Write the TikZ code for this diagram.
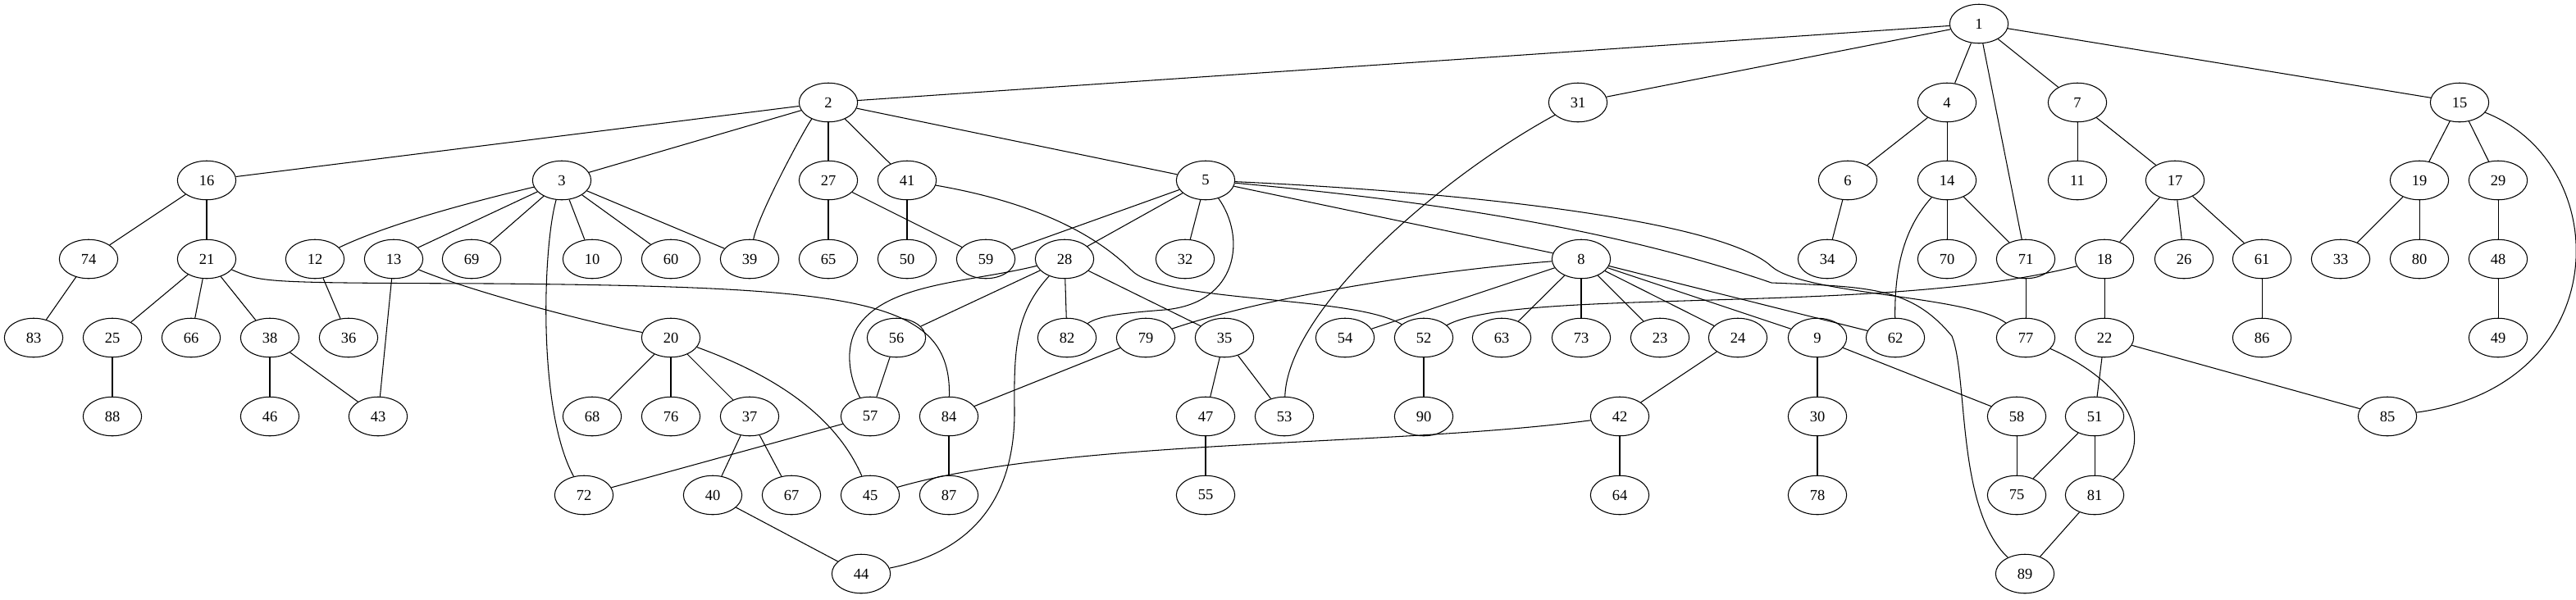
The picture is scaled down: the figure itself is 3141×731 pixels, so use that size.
\documentclass[tikz,border=0pt]{standalone}
\usepackage{fontspec}
\setmainfont{Liberation Serif}
\usepackage{tikz}
\usetikzlibrary{shapes.geometric}

\begin{document}
\begin{tikzpicture}[x=0.7576pt, y=-0.7576pt, line width=0.8pt, every node/.style={ellipse, draw=black, minimum width=54pt, minimum height=36pt, inner sep=0pt, font=\fontsize{14}{16}\selectfont}]
	\useasboundingbox (0,0) rectangle (3141,731);
	% row 0 and 1
	\node(n1) at (2413,29){1};
	\node(n2) at (1010,125){2};
	\node(n31) at (1924,125){31};
	\node(n4) at (2374,125){4};
	\node(n7) at (2533,125){7};
	\node(n15) at (2999,125){15};
	% row 2
	\node(n16) at (252,220){16};
	\node(n3) at (685,220){3};
	\node(n27) at (1010,220){27};
	\node(n41) at (1106,220){41};
	\node(n5) at (1470,220){5};
	\node(n6) at (2253,220){6};
	\node(n14) at (2374,220){14};
	\node(n11) at (2533,220){11};
	\node(n17) at (2652,220){17};
	\node(n19) at (2950,220){19};
	\node(n29) at (3046,220){29};
	% row 3
	\node(n74) at (108,316){74};
	\node(n21) at (252,316){21};
	\node(n12) at (384,316){12};
	\node(n13) at (480,316){13};
	\node(n69) at (575,316){69};
	\node(n10) at (722,316){10};
	\node(n60) at (818,316){60};
	\node(n39) at (914,316){39};
	\node(n65) at (1010,316){65};
	\node(n50) at (1106,316){50};
	\node(n59) at (1202,316){59};
	\node(n28) at (1298,316){28};
	\node(n32) at (1445,316){32};
	\node(n8) at (1928,316){8};
	\node(n34) at (2228,316){34};
	\node(n70) at (2374,316){70};
	\node(n71) at (2470,316){71};
	\node(n18) at (2566,316){18};
	\node(n26) at (2663,316){26};
	\node(n61) at (2758,316){61};
	\node(n33) at (2854,316){33};
	\node(n80) at (2950,316){80};
	\node(n48) at (3046,316){48};
	% row 4
	\node(n83) at (41,412){83};
	\node(n25) at (137,412){25};
	\node(n66) at (233,412){66};
	\node(n38) at (329,412){38};
	\node(n36) at (425,412){36};
	\node(n20) at (818,412){20};
	\node(n56) at (1093,412){56};
	\node(n82) at (1301,412){82};
	\node(n79) at (1397,412){79};
	\node(n35) at (1493,412){35};
	\node(n54) at (1640,412){54};
	\node(n52) at (1736,412){52};
	\node(n63) at (1831,412){63};
	\node(n73) at (1928,412){73};
	\node(n23) at (2024,412){23};
	\node(n24) at (2119,412){24};
	\node(n9) at (2216,412){9};
	\node(n62) at (2311,412){62};
	\node(n77) at (2470,412){77};
	\node(n22) at (2566,412){22};
	\node(n86) at (2758,412){86};
	\node(n49) at (3046,412){49};
	% row 5
	\node(n88) at (137,508){88};
	\node(n46) at (329,508){46};
	\node(n43) at (461,508){43};
	\node(n68) at (722,508){68};
	\node(n76) at (818,508){76};
	\node(n37) at (914,508){37};
	\node(n57) at (1061,508){57};
	\node(n84) at (1157,508){84};
	\node(n47) at (1470,508){47};
	\node(n53) at (1566,508){53};
	\node(n90) at (1736,508){90};
	\node(n42) at (1975,508){42};
	\node(n30) at (2216,508){30};
	\node(n58) at (2459,508){58};
	\node(n51) at (2554,508){51};
	\node(n85) at (2911,508){85};
	% row 6 and 7
	\node(n72) at (712,604){72};
	\node(n40) at (869,604){40};
	\node(n67) at (965,604){67};
	\node(n45) at (1061,604){45};
	\node(n87) at (1157,604){87};
	\node(n55) at (1470,604){55};
	\node(n64) at (1975,604){64};
	\node(n78) at (2216,604){78};
	\node(n75) at (2459,604){75};
	\node(n81) at (2554,604){81};
	\node(n44) at (1050,700){44};
	\node(n89) at (2469,700){89};
	% straight edges
	\draw (n1) -- (n2);
	\draw (n1) -- (n31);
	\draw (n1) -- (n4);
	\draw (n1) -- (n71);
	\draw (n1) -- (n7);
	\draw (n1) -- (n15);
	\draw (n2) -- (n16);
	\draw (n2) -- (n3);
	\draw (n2) -- (n27);
	\draw (n2) -- (n41);
	\draw (n2) -- (n5);
	\draw (n3) -- (n13);
	\draw (n3) -- (n69);
	\draw (n3) -- (n10);
	\draw (n3) -- (n60);
	\draw (n3) -- (n39);
	\draw (n4) -- (n6);
	\draw (n4) -- (n14);
	\draw (n5) -- (n59);
	\draw (n5) -- (n28);
	\draw (n5) -- (n32);
	\draw (n5) -- (n8);
	\draw (n6) -- (n34);
	\draw (n7) -- (n11);
	\draw (n7) -- (n17);
	\draw (n8) -- (n54);
	\draw (n8) -- (n63);
	\draw (n8) -- (n73);
	\draw (n8) -- (n23);
	\draw (n8) -- (n24);
	\draw (n8) -- (n9);
	\draw (n8) -- (n62);
	\draw (n9) -- (n30);
	\draw (n9) -- (n58);
	\draw (n12) -- (n36);
	\draw (n13) -- (n43);
	\draw (n14) -- (n70);
	\draw (n14) -- (n71);
	\draw (n15) -- (n19);
	\draw (n15) -- (n29);
	\draw (n16) -- (n74);
	\draw (n16) -- (n21);
	\draw (n17) -- (n18);
	\draw (n17) -- (n26);
	\draw (n17) -- (n61);
	\draw (n18) -- (n22);
	\draw (n19) -- (n33);
	\draw (n19) -- (n80);
	\draw (n20) -- (n68);
	\draw (n20) -- (n76);
	\draw (n20) -- (n37);
	\draw (n21) -- (n25);
	\draw (n21) -- (n66);
	\draw (n21) -- (n38);
	\draw (n22) -- (n51);
	\draw (n22) -- (n85);
	\draw (n24) -- (n42);
	\draw (n25) -- (n88);
	\draw (n27) -- (n65);
	\draw (n27) -- (n59);
	\draw (n28) -- (n56);
	\draw (n28) -- (n82);
	\draw (n28) -- (n35);
	\draw (n29) -- (n48);
	\draw (n30) -- (n78);
	\draw (n35) -- (n47);
	\draw (n35) -- (n53);
	\draw (n37) -- (n40);
	\draw (n37) -- (n67);
	\draw (n38) -- (n46);
	\draw (n38) -- (n43);
	\draw (n40) -- (n44);
	\draw (n41) -- (n50);
	\draw (n42) -- (n64);
	\draw (n47) -- (n55);
	\draw (n48) -- (n49);
	\draw (n51) -- (n75);
	\draw (n51) -- (n81);
	\draw (n52) -- (n90);
	\draw (n56) -- (n57);
	\draw (n57) -- (n72);
	\draw (n58) -- (n75);
	\draw (n61) -- (n86);
	\draw (n71) -- (n77);
	\draw (n74) -- (n83);
	\draw (n79) -- (n84);
	\draw (n81) -- (n89);
	\draw (n84) -- (n87);
	% curved edges
	\draw (n2) .. controls (985,150) and (925,260) .. (n39);
	\draw (n3) .. controls (560,250) and (470,275) .. (n12);
	\draw (n3) .. controls (662,300) and (655,500) .. (n72);
	\draw (n13) .. controls (560,350) and (700,390) .. (n20);
	\draw (n20) .. controls (950,460) and (1020,510) .. (n45);
	\draw (n21) .. controls (320,345) .. (600,346) .. controls (1050,350) and (1160,365) .. (n84);
	\draw (n28) .. controls (1180,345) and (1080,345) .. (1045,400) .. controls (1030,425) and (1035,460) .. (n57);
	\draw (n28) .. controls (1240,380) and (1236,420) .. (1237,500) .. controls (1238,640) and (1150,680) .. (n44);
	\draw (n41) .. controls (1250,245) and (1330,280) .. (1380,330) .. controls (1420,370) and (1650,360) .. (n52);
	\draw (n5) .. controls (1520,290) and (1510,370) .. (1420,378) .. controls (1370,382) and (1340,385) .. (n82);
	\draw (n5) .. controls (1800,235) and (2100,270) .. (2160,325) .. controls (2200,360) and (2400,360) .. (n77);
	\draw (n5) .. controls (1800,250) and (2000,290) .. (2160,345) .. controls (2280,350) and (2330,350) .. (2380,410) .. controls (2400,460) and (2385,620) .. (n89);
	\draw (n31) .. controls (1750,220) and (1570,380) .. (n53);
	\draw (n42) .. controls (1700,545) and (1300,535) .. (n45);
	\draw (n14) .. controls (2320,280) and (2310,330) .. (n62);
	\draw (n18) .. controls (2300,385) and (1850,350) .. (n52);
	\draw (n77) .. controls (2600,470) and (2630,540) .. (n81);
	\draw (n15) .. controls (3190,200) and (3190,470) .. (n85);
	\draw (n79) .. controls (1550,360) and (1750,330) .. (n8);
\end{tikzpicture}
\end{document}
